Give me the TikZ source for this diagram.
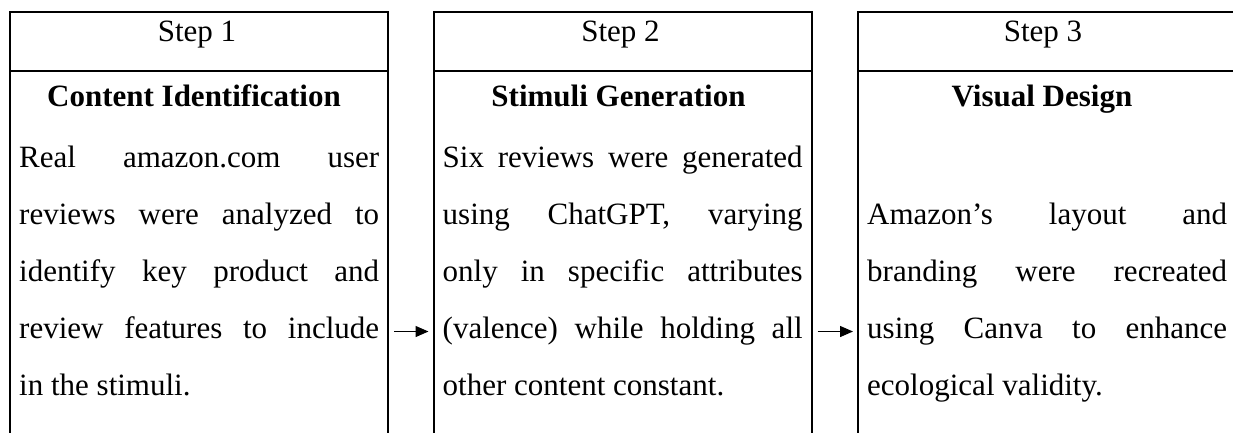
\documentclass[tikz,border=0pt]{standalone}
\usepackage{fontspec}
\setmainfont{Liberation Serif}
\usetikzlibrary{arrows.meta}
\newlength{\bodyw}
\setlength{\bodyw}{360pt}
% a body line stretched to the full column width
\newcommand{\jline}[1]{\makebox[\bodyw][s]{#1}}
\begin{document}
\begin{tikzpicture}[x=1pt,y=-1pt,
  stepbox/.style={draw, line width=2pt, minimum width=378pt, minimum height=430pt,
    anchor=north west, inner sep=0pt, outer sep=0pt},
  rule/.style={line width=2pt},
  head/.style={anchor=base, inner sep=0pt, font=\fontsize{31}{31}\selectfont},
  title/.style={anchor=base, inner sep=0pt, font=\fontsize{31}{31}\selectfont\bfseries},
  bodyline/.style={anchor=base west, inner sep=0pt, font=\fontsize{31}{31}\selectfont},
  arr/.style={line width=1.3pt, -{Triangle[length=13pt,width=11pt]},
    shorten <=6pt, shorten >=5pt}]
\useasboundingbox (0,0) rectangle (1233,432);
\clip (0,0) rectangle (1233,432);
\fill[white] (0,0) rectangle (1233,432);

% the three step columns
\node[stepbox] (b1) at (10,11.5) {};
\node[stepbox] (b2) at (433.5,11.5) {};
\node[stepbox] (b3) at (858,11.5) {};

\coordinate (hr) at (0,71);
\coordinate (l4) at (0,331.5);
\foreach \b in {b1,b2,b3}
  \draw[rule] (\b.west |- hr) -- (\b.east |- hr);

% headers and titles
\node[head] (s1) at (197,41.5) {Step 1};
\node[head] (s2) at (620.5,41.5) {Step 2};
\node[head] (s3) at (1043,41.5) {Step 3};
\node[title] (t1) at (194,106) {Content Identification};
\node[title] (t2) at (618.5,106) {Stimuli Generation};
\node[title] (t3) at (1042,106) {Visual Design};

% column 1
\node[bodyline] (c1a) at (19,167) {\jline{Real amazon.com user}};
\node[bodyline] (c1b) at (19,224) {\jline{reviews were analyzed to}};
\node[bodyline] (c1c) at (19,281) {\jline{identify key product and}};
\node[bodyline] (c1d) at (19,338) {\jline{review features to include}};
\node[bodyline] (c1e) at (19,395) {in the stimuli.};

% column 2
\node[bodyline] (c2a) at (442.5,167) {\jline{Six reviews were generated}};
\node[bodyline] (c2b) at (442.5,224) {\jline{using ChatGPT, varying}};
\node[bodyline] (c2c) at (442.5,281) {\jline{only in specific attributes}};
\node[bodyline] (c2d) at (442.5,338) {\jline{(valence) while holding all}};
\node[bodyline] (c2e) at (442.5,395) {other content constant.};

% column 3
\node[bodyline] (c3b) at (867,224) {\jline{Amazon’s layout and}};
\node[bodyline] (c3c) at (867,281) {\jline{branding were recreated}};
\node[bodyline] (c3d) at (867,338) {\jline{using Canva to enhance}};
\node[bodyline] (c3e) at (867,395) {ecological validity.};

% connectors between the columns
\draw[arr] (b1.east |- l4) -- (b2.west |- l4);
\draw[arr] (b2.east |- l4) -- (b3.west |- l4);
\end{tikzpicture}
\end{document}
